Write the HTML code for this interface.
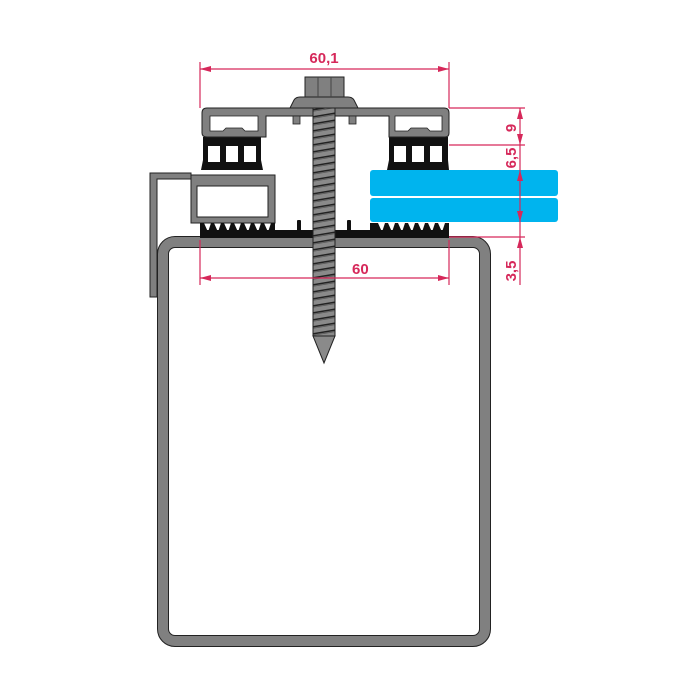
<!DOCTYPE html>
<html><head><style>html,body{margin:0;padding:0;background:#fff}svg{display:block}</style></head>
<body>
<svg width="700" height="700" viewBox="0 0 700 700" xmlns="http://www.w3.org/2000/svg">
<defs>
<pattern id="thr" x="0" y="0" width="24" height="7" patternUnits="userSpaceOnUse">
<rect width="24" height="7" fill="#8a8a8a"/>
<path d="M0 5 L24 1" stroke="#222" stroke-width="1.6"/>
<path d="M0 6.5 L24 2.5" stroke="#555" stroke-width="0.8"/>
</pattern>
</defs>
<!-- tube -->
<rect x="163" y="242" width="322" height="399" rx="12" fill="none" stroke="#222" stroke-width="12"/>
<rect x="163" y="242" width="322" height="399" rx="12" fill="none" stroke="#808080" stroke-width="10"/>
<!-- left bracket -->
<path d="M150 173 H191 V179 H157 V297 H150 Z" fill="#808080" stroke="#222" stroke-width="1"/>
<!-- left box -->
<rect x="191" y="175" width="84" height="48" fill="#808080" stroke="#222" stroke-width="1"/>
<rect x="197" y="186" width="71" height="31" fill="#fff" stroke="#222" stroke-width="1"/>
<!-- bottom gasket -->
<rect x="200" y="230" width="249" height="8" fill="#111"/>
<g fill="#111">
<path d="M200 223 L200 230 L275 230 L275 223 L271 223 L268 232 L264 223 L261 223 L258 232 L254 223 L251 223 L248 232 L244 223 L241 223 L238 232 L234 223 L231 223 L228 232 L224 223 L221 223 L218 232 L214 223 L211 223 L208 232 L204 223 Z"/>
<path d="M370 223 L370 230 L449 230 L449 223 L445 223 L442 232 L438 223 L435 223 L432 232 L428 223 L425 223 L422 232 L418 223 L415 223 L412 232 L408 223 L405 223 L402 232 L398 223 L395 223 L392 232 L388 223 L385 223 L382 232 L378 223 L375 223 Z"/>
<rect x="297" y="220" width="4" height="11" rx="1"/>
<rect x="347" y="220" width="4" height="11" rx="1"/>
</g>
<!-- glass -->
<rect x="370" y="170" width="188" height="26" rx="3" fill="#00b4ee"/>
<rect x="370" y="198" width="188" height="24" rx="3" fill="#00b4ee"/>
<!-- upper gaskets -->
<g fill="#111">
<path d="M203 137 H261 V160 L263 170 H201 L203 160 Z"/>
<path d="M389 137 H448 V160 L449 170 H387 L389 160 Z"/>
<path d="M220 140 V132 L226 130 L229 125 H239 L242 130 L248 132 V140 Z"/>
<path d="M405 140 V132 L411 130 L414 125 H424 L427 130 L433 132 V140 Z"/>
</g>
<g fill="#fff">
<rect x="208" y="146" width="12" height="16"/><rect x="226" y="146" width="12" height="16"/><rect x="244" y="146" width="12" height="16"/>
<rect x="394" y="146" width="12" height="16"/><rect x="412" y="146" width="12" height="16"/><rect x="430" y="146" width="12" height="16"/>
<rect x="230" y="129" width="8" height="7"/><rect x="415" y="129" width="8" height="7"/>
</g>
<!-- cap -->
<path d="M202 113 Q202 108 207 108 H444 Q449 108 449 113 V133 Q449 137 445 137 H389 V116 H266 V137 H207 Q202 137 202 133 Z" fill="#808080" stroke="#222" stroke-width="1"/>
<path d="M210 116 H258 V131 H245 L242 128 H226 L223 131 H210 Z" fill="#fff" stroke="#222" stroke-width="0.8"/>
<path d="M395 116 H442 V131 H430 L427 128 H411 L408 131 H395 Z" fill="#fff" stroke="#222" stroke-width="0.8"/>
<rect x="293" y="116" width="7" height="8" fill="#808080" stroke="#222" stroke-width="0.8"/>
<rect x="349" y="116" width="7" height="8" fill="#808080" stroke="#222" stroke-width="0.8"/>
<!-- screw -->
<rect x="313" y="108" width="22" height="228" fill="url(#thr)" stroke="#222" stroke-width="1"/>
<path d="M313 336 H335 L324 363 Z" fill="#8a8a8a" stroke="#222" stroke-width="1"/>
<path d="M290 108 L294 100 Q296 97 300 97 H348 Q352 97 354 100 L358 108 Z" fill="#808080" stroke="#222" stroke-width="1"/>
<rect x="305" y="77" width="39" height="20" fill="#808080" stroke="#222" stroke-width="1"/>
<line x1="318" y1="77" x2="318" y2="97" stroke="#444"/><line x1="331" y1="77" x2="331" y2="97" stroke="#444"/>
<!-- dimensions -->
<g stroke="#d6285a" stroke-width="1.2" fill="none">
<line x1="200" y1="62" x2="200" y2="108"/><line x1="449" y1="62" x2="449" y2="108"/>
<line x1="200" y1="69" x2="449" y2="69"/>
<line x1="200" y1="240" x2="200" y2="285"/><line x1="449" y1="240" x2="449" y2="285"/>
<line x1="200" y1="278" x2="449" y2="278"/>
<line x1="449" y1="108" x2="525" y2="108"/><line x1="449" y1="145" x2="525" y2="145"/>
<line x1="449" y1="237" x2="525" y2="237"/>
<line x1="520" y1="108" x2="520" y2="285"/>
</g>
<g fill="#d6285a">
<path d="M200 69 l11 -3 v6 z"/><path d="M449 69 l-11 -3 v6 z"/>
<path d="M200 278 l11 -3 v6 z"/><path d="M449 278 l-11 -3 v6 z"/>
<path d="M520 108 l-3 11 h6 z"/><path d="M520 145 l-3 -11 h6 z"/>
<path d="M520 170 l-3 11 h6 z"/><path d="M520 222 l-3 -11 h6 z"/>
<path d="M520 237 l-3 11 h6 z"/>
</g>
<g fill="#d6285a" font-family="Liberation Sans, sans-serif" font-size="15" font-weight="bold">
<text x="324" y="63" text-anchor="middle">60,1</text>
<text x="352" y="274">60</text>
<text transform="translate(516 128) rotate(-90)" text-anchor="middle">9</text>
<text transform="translate(516 158) rotate(-90)" text-anchor="middle">6,5</text>
<text transform="translate(516 271) rotate(-90)" text-anchor="middle">3,5</text>
</g>
</svg>
</body></html>
